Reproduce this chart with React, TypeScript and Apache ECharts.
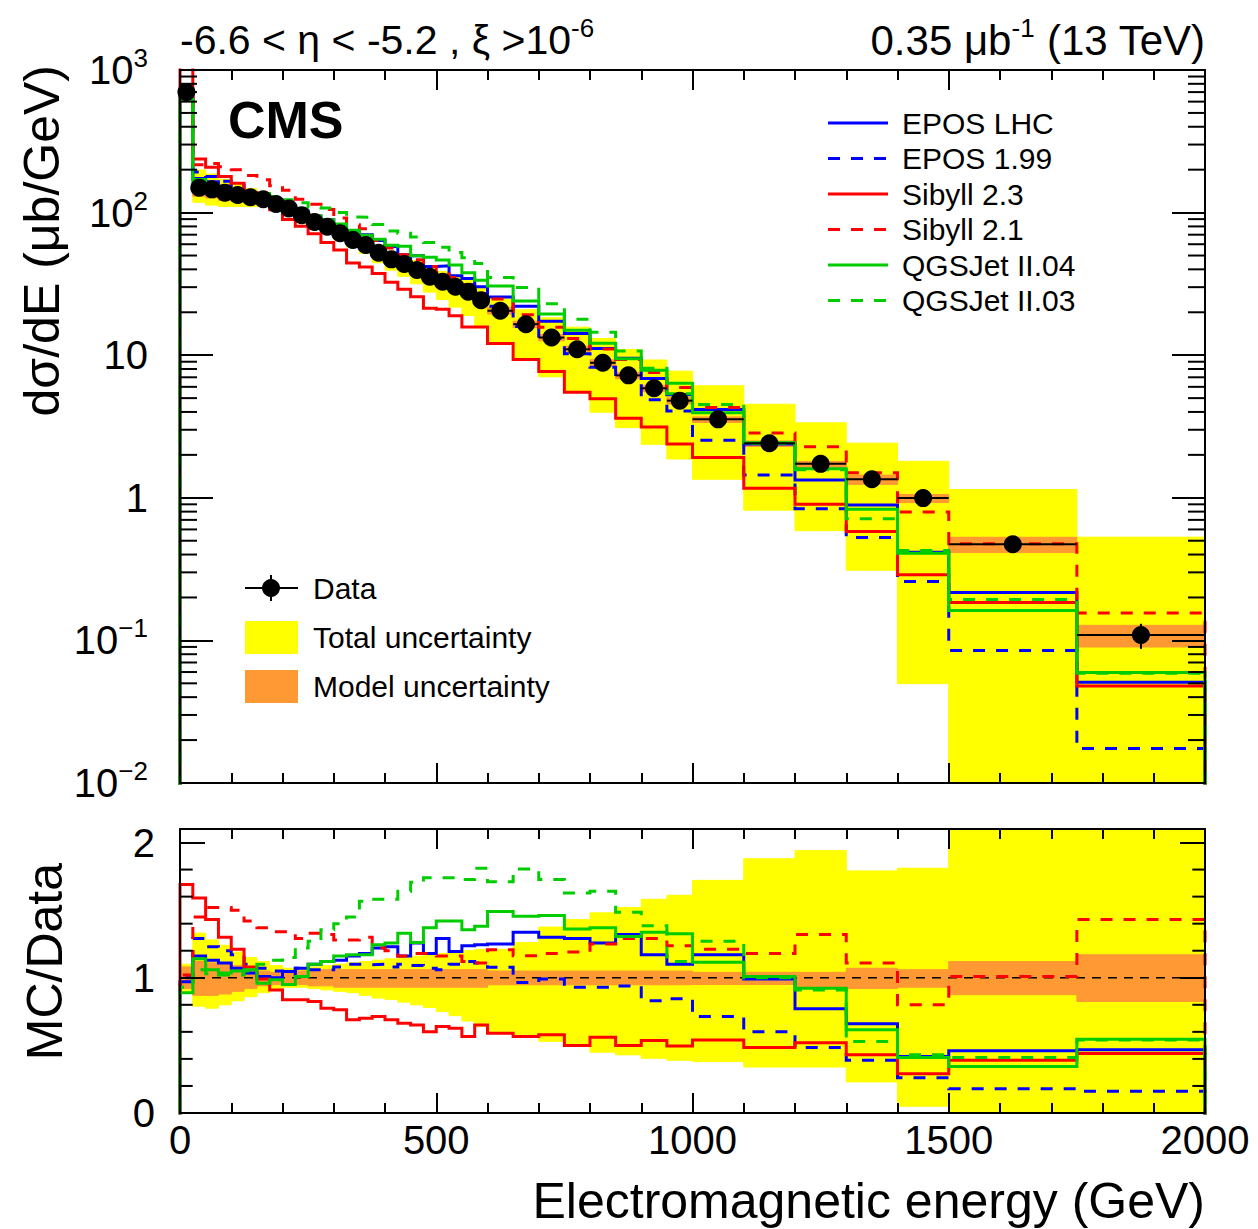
import React, { useEffect, useRef } from 'react';
import * as echarts from 'echarts';

// ---------- data ----------
const binEdges = [0, 25, 50, 75, 100, 125, 150, 175, 200, 225, 250, 275, 300, 325, 350, 375, 400, 425, 450, 475, 500, 525, 550, 575, 600,
  650, 700, 750, 800, 850, 900, 950, 1000, 1100, 1200, 1300, 1400, 1500, 1750, 2000];

const dataValues = [700, 149.6, 145.6, 138, 133, 128, 124, 115, 107, 96, 86, 79.6, 71.6, 64.3, 59.3, 52.3, 47, 43.6, 39.6, 35.5, 32.8, 30.2, 27.9, 24.3,
  20.5, 16.5, 13.3, 11.0, 8.85, 7.22, 5.86, 4.8, 3.55, 2.41, 1.73, 1.35, 0.995, 0.472, 0.109];
const dataErrRel = [0.02, 0.02, 0.02, 0.02, 0.02, 0.02, 0.02, 0.02, 0.02, 0.02, 0.02, 0.02, 0.02, 0.02, 0.02, 0.02, 0.02, 0.02, 0.02, 0.02, 0.02, 0.02, 0.02, 0.02,
  0.02, 0.02, 0.02, 0.02, 0.02, 0.02, 0.02, 0.02, 0.02, 0.03, 0.03, 0.03, 0.04, 0.05, 0.2];

// MC / Data ratios
const eposLhc = [0.97, 1.16, 1.13, 1.11, 1.07, 1.035, 1.01, 1.0, 1.047, 1.07, 1.10, 1.12, 1.13, 1.16, 1.18, 1.22, 1.23, 1.16, 1.257, 1.18, 1.29, 1.195, 1.237, 1.244,
  1.25, 1.336, 1.30, 1.29, 1.257, 1.32, 1.17, 1.10, 1.17, 0.99, 0.77, 0.66, 0.417, 0.46, 0.467];
const epos199 = [1.0, 1.29, 1.23, 1.2, 1.17, 1.1, 1.07, 1.05, 1.02, 1.07, 1.06, 1.06, 1.08, 1.1, 1.096, 1.1, 1.08, 1.1, 1.09, 1.07, 1.06, 1.1, 1.12, 1.11,
  1.077, 0.965, 0.99, 0.93, 0.93, 0.94, 0.83, 0.845, 0.714, 0.60, 0.484, 0.39, 0.26, 0.18, 0.16];
const sibyll23 = [1.69, 1.59, 1.43, 1.30, 1.21, 1.08, 0.99, 0.91, 0.837, 0.837, 0.825, 0.775, 0.763, 0.69, 0.70, 0.714, 0.69, 0.664, 0.65, 0.60, 0.64, 0.627, 0.565, 0.65,
  0.59, 0.565, 0.578, 0.50, 0.56, 0.50, 0.536, 0.496, 0.54, 0.484, 0.52, 0.43, 0.29, 0.39, 0.44];
const sibyll21 = [1.02, 1.45, 1.52, 1.52, 1.50, 1.42, 1.37, 1.34, 1.34, 1.29, 1.33, 1.32, 1.28, 1.28, 1.30, 1.22, 1.20, 1.16, 1.18, 1.18, 1.16, 1.16, 1.12, 1.11,
  1.207, 1.163, 1.18, 1.19, 1.25, 1.29, 1.29, 1.237, 1.21, 1.18, 1.32, 1.11, 0.80, 1.01, 1.43];
const qgsjet04 = [0.89, 1.14, 1.06, 1.035, 1.05, 1.06, 0.96, 0.985, 0.95, 1.01, 1.10, 1.12, 1.16, 1.17, 1.17, 1.245, 1.257, 1.33, 1.26, 1.37, 1.42, 1.42, 1.355, 1.38,
  1.49, 1.454, 1.46, 1.36, 1.37, 1.306, 1.336, 1.326, 1.114, 1.01, 0.923, 0.615, 0.41, 0.343, 0.546];
const qgsjet03 = [0.93, 1.06, 1.03, 1.02, 1.02, 1.05, 1.10, 1.13, 1.15, 1.22, 1.27, 1.355, 1.40, 1.45, 1.565, 1.58, 1.58, 1.64, 1.706, 1.74, 1.74, 1.74, 1.726, 1.81,
  1.71, 1.805, 1.726, 1.627, 1.64, 1.484, 1.385, 1.12, 1.27, 1.0, 0.91, 0.528, 0.43, 0.41, 0.54];

// uncertainty bands, relative to data
const totUncLo = [0.90, 0.79, 0.775, 0.80, 0.83, 0.86, 0.89, 0.92, 0.93, 0.93, 0.92, 0.91, 0.90, 0.89, 0.87, 0.85, 0.84, 0.82, 0.80, 0.78, 0.75, 0.72, 0.68, 0.64,
  0.59, 0.58, 0.53, 0.50, 0.45, 0.43, 0.405, 0.39, 0.38, 0.34, 0.34, 0.23, 0.05, 0.01, 0.01];
const totUncHi = [1.10, 1.33, 1.28, 1.24, 1.19, 1.15, 1.12, 1.09, 1.07, 1.07, 1.08, 1.09, 1.10, 1.11, 1.12, 1.13, 1.14, 1.15, 1.16, 1.17, 1.18, 1.19, 1.20, 1.21,
  1.21, 1.26, 1.375, 1.43, 1.48, 1.52, 1.58, 1.61, 1.72, 1.88, 1.94, 1.79, 1.81, 2.42, 4.86];
const modUncLo = [0.92, 0.87, 0.87, 0.88, 0.90, 0.92, 0.94, 0.95, 0.95, 0.95, 0.94, 0.94, 0.93, 0.93, 0.93, 0.93, 0.93, 0.93, 0.93, 0.93, 0.93, 0.93, 0.93, 0.93,
  0.948, 0.948, 0.948, 0.948, 0.948, 0.948, 0.948, 0.948, 0.95, 0.95, 0.93, 0.92, 0.93, 0.875, 0.825];
const modUncHi = [1.08, 1.12, 1.11, 1.10, 1.09, 1.07, 1.05, 1.04, 1.04, 1.05, 1.06, 1.06, 1.06, 1.06, 1.06, 1.06, 1.06, 1.06, 1.06, 1.06, 1.06, 1.06, 1.06, 1.06,
  1.05, 1.05, 1.05, 1.05, 1.05, 1.05, 1.05, 1.05, 1.04, 1.04, 1.04, 1.07, 1.06, 1.12, 1.17];

const xTickValues = [0, 500, 1000, 1500, 2000];
const xTickLabels = ['0', '500', '1000', '1500', '2000'];
const logTickValues = [0.01, 0.1, 1, 10, 100, 1000];
const logTickLabels = ['10{sup|−2}', '10{sup|−1}', '1', '10', '10{sup|2}', '10{sup|3}'];
const ratioTickValues = [0, 1, 2];
const ratioTickLabels = ['0', '1', '2'];
const ratioMinorTicks = [0.2, 0.4, 0.6, 0.8, 1.2, 1.4, 1.6, 1.8];

const BLUE = '#0000ff';
const RED = '#ff0000';
const GREEN = '#00cc00';
const YELLOW = '#ffff00';
const ORANGE = '#ff9933';
const FONT = "'Liberation Sans', Arial, Helvetica, sans-serif";
const DASH = [12, 11];

const models = [
  { name: 'EPOS LHC', ratio: eposLhc, color: BLUE, dashed: false },
  { name: 'EPOS 1.99', ratio: epos199, color: BLUE, dashed: true },
  { name: 'Sibyll 2.3', ratio: sibyll23, color: RED, dashed: false },
  { name: 'Sibyll 2.1', ratio: sibyll21, color: RED, dashed: true },
  { name: 'QGSJet II.04', ratio: qgsjet04, color: GREEN, dashed: false },
  { name: 'QGSJet II.03', ratio: qgsjet03, color: GREEN, dashed: true },
];

// ---------- helpers ----------
function histPoints(vals: number[], base: number) {
  const pts: number[][] = [[binEdges[0], base]];
  for (let i = 0; i < vals.length; i++) pts.push([binEdges[i], vals[i]]);
  pts.push([binEdges[vals.length], vals[vals.length - 1]]);
  pts.push([binEdges[vals.length], base]);
  return pts;
}

function bandItem(color: string) {
  return (params: any, api: any) => {
    const cs = params.coordSys;
    const p1 = api.coord([api.value(0), api.value(3)]);
    const p2 = api.coord([api.value(1), api.value(2)]);
    const top = Math.max(cs.y, Math.min(p1[1], p2[1]));
    const bot = Math.min(cs.y + cs.height, Math.max(p1[1], p2[1]));
    if (!(bot > top)) return null;
    return {
      type: 'rect',
      shape: { x: p1[0], y: top, width: p2[0] - p1[0], height: bot - top },
      style: { fill: color, stroke: color, lineWidth: 1 },
    };
  };
}

function bandSeries(name: string, lo: number[], hi: number[], color: string, xi: number, yi: number, scaled: boolean) {
  return {
    type: 'custom', name, xAxisIndex: xi, yAxisIndex: yi, silent: true, z: 1,
    data: dataValues.map((d, i) => [binEdges[i], binEdges[i + 1], scaled ? d * lo[i] : lo[i], scaled ? d * hi[i] : hi[i]]),
    encode: { x: [0, 1], y: [2, 3] },
    renderItem: bandItem(color),
  };
}

function minorTickSeries(xi: number, yi: number, values: number[], len: number) {
  return {
    type: 'custom', xAxisIndex: xi, yAxisIndex: yi, silent: true, z: 10,
    data: values.map((v) => [0, v]),
    renderItem: (params: any, api: any) => {
      const cs = params.coordSys;
      const y = api.coord([0, api.value(1)])[1];
      return {
        type: 'group',
        children: [
          { type: 'line', shape: { x1: cs.x, y1: y, x2: cs.x + len, y2: y }, style: { stroke: '#000', lineWidth: 2 } },
          { type: 'line', shape: { x1: cs.x + cs.width - len, y1: y, x2: cs.x + cs.width, y2: y }, style: { stroke: '#000', lineWidth: 2 } },
        ],
      };
    },
  };
}

const logMinorValues: number[] = [];
for (let k = -2; k <= 2; k++) for (let m = 2; m <= 9; m++) logMinorValues.push(m * Math.pow(10, k));

function xLabel(v: number) {
  for (let i = 0; i < xTickValues.length; i++) if (Math.abs(v - xTickValues[i]) < 1e-6) return xTickLabels[i];
  return '';
}

function xAxisCfg(gridIndex: number, position: string, showLabel: boolean) {
  return {
    type: 'value', gridIndex, position, min: 0, max: 2000, interval: 500, z: 10,
    axisLine: { show: true, onZero: false, lineStyle: { color: '#000', width: 2 } },
    axisTick: { show: true, inside: true, length: 20, lineStyle: { color: '#000', width: 2 } },
    minorTick: { show: true, splitNumber: 5, length: 10, lineStyle: { color: '#000', width: 2 } },
    axisLabel: { show: showLabel, color: '#000', fontSize: 40, fontFamily: FONT, margin: 7, formatter: xLabel },
    splitLine: { show: false },
    minorSplitLine: { show: false },
  };
}

function logLabel(v: number) {
  for (let i = 0; i < logTickValues.length; i++) {
    if (Math.abs(Math.log10(v) - Math.log10(logTickValues[i])) < 1e-6) return logTickLabels[i];
  }
  return '';
}
function ratioLabel(v: number) {
  for (let i = 0; i < ratioTickValues.length; i++) if (Math.abs(v - ratioTickValues[i]) < 1e-9) return ratioTickLabels[i];
  return '';
}

const supRich = { sup: { fontSize: 26, lineHeight: 26, verticalAlign: 'top', fontFamily: FONT, color: '#000' } };

function yLogCfg(position: string, showLabel: boolean) {
  return {
    type: 'log', logBase: 10, gridIndex: 0, position, min: 0.01, max: 1000, z: 10,
    axisLine: { show: true, onZero: false, lineStyle: { color: '#000', width: 2 } },
    axisTick: { show: true, inside: true, length: 33, lineStyle: { color: '#000', width: 2 } },
    minorTick: { show: false },
    axisLabel: { show: showLabel, color: '#000', fontSize: 40, fontFamily: FONT, margin: 32, lineHeight: 50, formatter: logLabel, rich: supRich },
    splitLine: { show: false },
  };
}
function yRatioCfg(position: string, showLabel: boolean) {
  return {
    type: 'value', gridIndex: 1, position, min: 0, max: 2.1, interval: 1, z: 10,
    axisLine: { show: true, onZero: false, lineStyle: { color: '#000', width: 2 } },
    axisTick: { show: true, inside: true, length: 25, lineStyle: { color: '#000', width: 2 } },
    minorTick: { show: false },
    axisLabel: { show: showLabel, color: '#000', fontSize: 40, fontFamily: FONT, margin: 25, formatter: ratioLabel },
    splitLine: { show: false },
  };
}

function buildOption() {
  const series: any[] = [];
  // top panel
  series.push(bandSeries('Total uncertainty', totUncLo, totUncHi, YELLOW, 0, 0, true));
  series.push(bandSeries('Model uncertainty', modUncLo, modUncHi, ORANGE, 0, 0, true));
  models.forEach((m) => {
    series.push({
      type: 'line', name: m.name, xAxisIndex: 0, yAxisIndex: 0, step: 'end', symbol: 'none', showSymbol: false,
      clip: true, z: 3, silent: true,
      lineStyle: { color: m.color, width: 3, type: m.dashed ? DASH : 'solid', cap: 'butt', join: 'miter' },
      data: histPoints(m.ratio.map((r, i) => r * dataValues[i]), 0.001),
    });
  });
  series.push({
    type: 'custom', name: 'Data errors', xAxisIndex: 0, yAxisIndex: 0, silent: true, z: 4,
    data: dataValues.map((d, i) => [binEdges[i], binEdges[i + 1], (binEdges[i] + binEdges[i + 1]) / 2, d, d * (1 - dataErrRel[i]), d * (1 + dataErrRel[i])]),
    encode: { x: [0, 1, 2], y: [3, 4, 5] },
    renderItem: (params: any, api: any) => {
      const a = api.coord([api.value(0), api.value(3)]);
      const b = api.coord([api.value(1), api.value(3)]);
      const c1 = api.coord([api.value(2), api.value(4)]);
      const c2 = api.coord([api.value(2), api.value(5)]);
      return {
        type: 'group',
        children: [
          { type: 'line', shape: { x1: a[0], y1: a[1], x2: b[0], y2: b[1] }, style: { stroke: '#000', lineWidth: 2 } },
          { type: 'line', shape: { x1: c1[0], y1: c1[1], x2: c2[0], y2: c2[1] }, style: { stroke: '#000', lineWidth: 2 } },
        ],
      };
    },
  });
  series.push({
    type: 'scatter', name: 'Data', xAxisIndex: 0, yAxisIndex: 0, symbol: 'circle', symbolSize: 18, z: 5, silent: true,
    itemStyle: { color: '#000', opacity: 1 },
    data: dataValues.map((d, i) => [(binEdges[i] + binEdges[i + 1]) / 2, d]),
  });
  series.push(minorTickSeries(0, 0, logMinorValues, 17));

  // ratio panel
  series.push(bandSeries('Total uncertainty (ratio)', totUncLo, totUncHi, YELLOW, 2, 2, false));
  series.push(bandSeries('Model uncertainty (ratio)', modUncLo, modUncHi, ORANGE, 2, 2, false));
  series.push({
    type: 'line', name: 'Unity', xAxisIndex: 2, yAxisIndex: 2, symbol: 'none', z: 2, silent: true,
    lineStyle: { color: '#000', width: 1.5, type: [9, 7] },
    data: [[0, 1], [2000, 1]],
  });
  models.forEach((m) => {
    series.push({
      type: 'line', name: m.name + ' ratio', xAxisIndex: 2, yAxisIndex: 2, step: 'end', symbol: 'none', showSymbol: false,
      clip: true, z: 3, silent: true,
      lineStyle: { color: m.color, width: 3, type: m.dashed ? DASH : 'solid', cap: 'butt', join: 'miter' },
      data: histPoints(m.ratio, -1),
    });
  });
  series.push(minorTickSeries(2, 2, ratioMinorTicks, 12.7));

  const txt = (x: number, y: number, text: string, size: number, align: string, extra: any = {}) => ({
    type: 'text', x, y, z: 50,
    style: {
      text, fontSize: size, fontFamily: FONT, fill: '#000', align, verticalAlign: 'middle',
      textAlign: align, textVerticalAlign: 'middle', ...extra,
    },
  });

  const graphic: any[] = [
    txt(180, 40, '-6.6 < η < -5.2 , ξ >10{sup|-6}', 41, 'left', { lineHeight: 50, rich: supRich }),
    txt(1205, 40, '0.35 μb{sup|-1} (13 TeV)', 42, 'right', { lineHeight: 50, rich: supRich }),
    txt(228, 120, 'CMS', 52, 'left', { fontWeight: 'bold' }),
    { ...txt(42, 65, 'dσ/dE (μb/GeV)', 50, 'right'), rotation: Math.PI / 2 },
    { ...txt(45, 863, 'MC/Data', 50, 'right'), rotation: Math.PI / 2 },
    txt(1205, 1201, 'Electromagnetic energy (GeV)', 50, 'right'),
  ];
  models.forEach((m, i) => {
    const y = 123 + i * 35.5;
    graphic.push({
      type: 'line', z: 50, shape: { x1: 828, y1: y, x2: 888, y2: y },
      style: { stroke: m.color, lineWidth: 3, lineDash: m.dashed ? DASH : null },
    });
    graphic.push(txt(902, y, m.name, 30, 'left'));
  });
  graphic.push(
    { type: 'line', z: 50, shape: { x1: 245, y1: 588, x2: 298, y2: 588 }, style: { stroke: '#000', lineWidth: 2 } },
    { type: 'line', z: 50, shape: { x1: 271, y1: 575, x2: 271, y2: 601 }, style: { stroke: '#000', lineWidth: 2 } },
    { type: 'circle', z: 50, shape: { cx: 271, cy: 588, r: 9 }, style: { fill: '#000' } },
    txt(313, 588, 'Data', 30, 'left'),
    { type: 'rect', z: 50, shape: { x: 245, y: 621, width: 53, height: 33 }, style: { fill: YELLOW } },
    txt(313, 637, 'Total uncertainty', 30, 'left'),
    { type: 'rect', z: 50, shape: { x: 245, y: 670, width: 53, height: 33 }, style: { fill: ORANGE } },
    txt(313, 686, 'Model uncertainty', 30, 'left'),
  );

  return {
    animation: false,
    backgroundColor: '#fff',
    grid: [
      { left: 180, top: 70, width: 1025, height: 713, show: false },
      { left: 180, top: 829, width: 1025, height: 284, show: false },
    ],
    xAxis: [
      xAxisCfg(0, 'bottom', false),
      xAxisCfg(0, 'top', false),
      xAxisCfg(1, 'bottom', true),
      xAxisCfg(1, 'top', false),
    ],
    yAxis: [
      yLogCfg('left', true),
      yLogCfg('right', false),
      yRatioCfg('left', true),
      yRatioCfg('right', false),
    ],
    series,
    graphic,
  };
}

export default function App() {
  const ref = useRef<HTMLDivElement>(null);
  useEffect(() => {
    if (!ref.current) return;
    const chart = echarts.init(ref.current, null, { renderer: 'svg' });
    chart.setOption(buildOption() as any);
    return () => chart.dispose();
  }, []);
  return (
    <div
      ref={ref}
      style={{ position: 'absolute', left: 0, top: 0, width: 1258, height: 1229, background: '#fff' }}
    />
  );
}
